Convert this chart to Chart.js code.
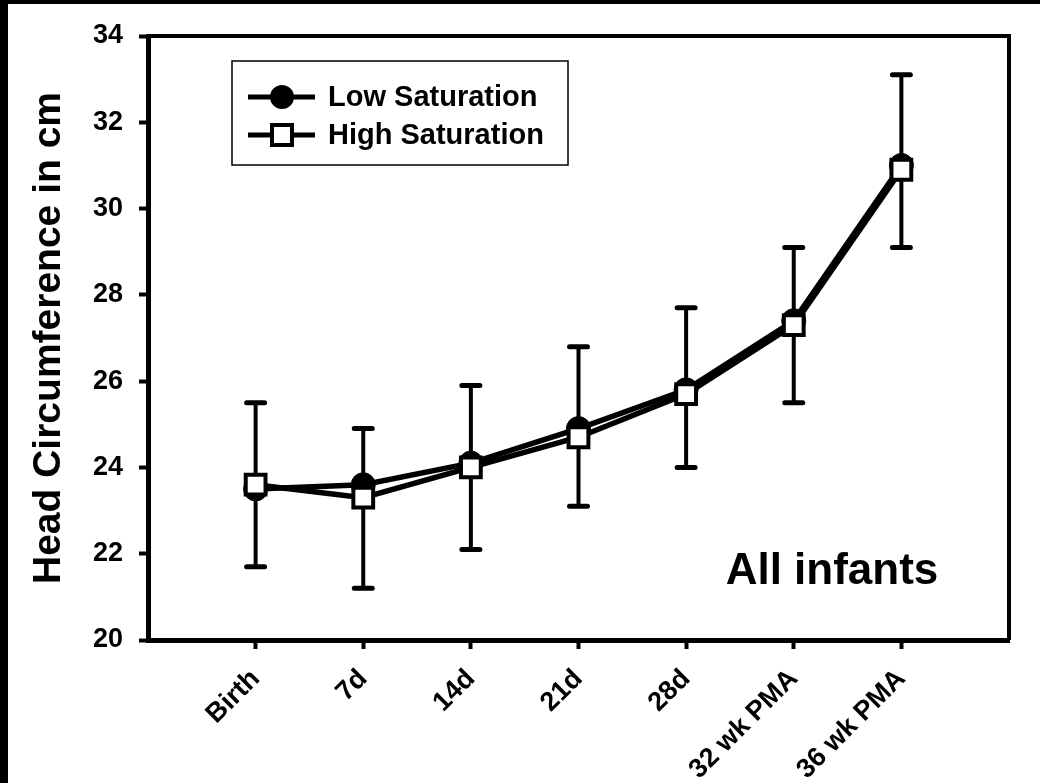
<html>

<head>
    <script type="text/javascript" src="https://cdn.jsdelivr.net/npm/chart.js@4.4.0/dist/chart.umd.min.js"></script>
    <style>
        html, body { margin: 0; padding: 0; background: #fff; overflow: hidden; }
        #wrap { position: relative; width: 1040px; height: 783px; overflow: hidden; }
        #hcGraph { display: block; }
        #barTop { position: absolute; left: 0; top: 0; width: 1040px; height: 4px; background: #000; }
        #barLeft { position: absolute; left: 0; top: 0; width: 8px; height: 783px; background: #000; }
    </style>
</head>

<body>
    <div id="wrap">
        <canvas id="hcGraph" width="1040" height="783"></canvas>
        <div id="barTop"></div>
        <div id="barLeft"></div>
    </div>
</body>

</html>

<script type="text/javascript">
    // dados
    const categories = ['Birth', '7d', '14d', '21d', '28d', '32 wk PMA', '36 wk PMA'];
    const lowSat = [23.5, 23.6, 24.1, 24.9, 25.8, 27.4, 31.0];
    const highSat = [23.6, 23.3, 24.0, 24.7, 25.7, 27.3, 30.9];
    const errUpper = [25.5, 24.9, 25.9, 26.8, 27.7, 29.1, 33.1];
    const errLower = [21.7, 21.2, 22.1, 23.1, 24.0, 25.5, 29.1];
    const yMin = 20, yMax = 34, yStep = 2;

    const FONT = '"Liberation Sans", Arial, sans-serif';

    const errorBars = {
        id: 'errorBars',
        beforeDatasetsDraw(chart) {
            const ctx = chart.ctx, x = chart.scales.x, y = chart.scales.y;
            ctx.save();
            ctx.strokeStyle = '#000';
            for (let i = 0; i < categories.length; i++) {
                const px = x.getPixelForValue(i + 1);
                const top = y.getPixelForValue(errUpper[i]);
                const bot = y.getPixelForValue(errLower[i]);
                ctx.lineWidth = 4;
                ctx.lineCap = 'butt';
                ctx.beginPath();
                ctx.moveTo(px, top);
                ctx.lineTo(px, bot);
                ctx.stroke();
                ctx.lineWidth = 5;
                ctx.lineCap = 'round';
                ctx.beginPath();
                ctx.moveTo(px - 9, top); ctx.lineTo(px + 9, top);
                ctx.moveTo(px - 9, bot); ctx.lineTo(px + 9, bot);
                ctx.stroke();
            }
            ctx.restore();
        }
    };

    const extras = {
        id: 'extras',
        afterDraw(chart) {
            const ctx = chart.ctx, a = chart.chartArea;
            ctx.save();
            // moldura de cima e da direita
            ctx.strokeStyle = '#000';
            ctx.lineWidth = 4;
            ctx.beginPath();
            ctx.moveTo(a.left, a.top);
            ctx.lineTo(a.right, a.top);
            ctx.lineTo(a.right, a.bottom);
            ctx.stroke();

            // legenda
            ctx.lineWidth = 1.5;
            ctx.strokeRect(232, 61, 336, 104);
            const rows = [
                { label: 'Low Saturation', y: 97, filled: true },
                { label: 'High Saturation', y: 135, filled: false }
            ];
            rows.forEach(r => {
                ctx.lineWidth = 5;
                ctx.beginPath();
                ctx.moveTo(248, r.y);
                ctx.lineTo(315, r.y);
                ctx.stroke();
                if (r.filled) {
                    ctx.fillStyle = '#000';
                    ctx.beginPath();
                    ctx.arc(282, r.y, 12, 0, Math.PI * 2);
                    ctx.fill();
                } else {
                    ctx.fillStyle = '#fff';
                    ctx.lineWidth = 4;
                    ctx.fillRect(272, r.y - 10, 20, 20);
                    ctx.strokeRect(272, r.y - 10, 20, 20);
                }
                ctx.fillStyle = '#000';
                ctx.font = 'bold 29px ' + FONT;
                ctx.textBaseline = 'middle';
                ctx.textAlign = 'left';
                ctx.fillText(r.label, 328, r.y + 1);
            });

            ctx.font = 'bold 44px ' + FONT;
            ctx.textAlign = 'center';
            ctx.textBaseline = 'alphabetic';
            ctx.fillText('All infants', 832, 584);
            ctx.restore();
        }
    };

    const ctx = document.getElementById('hcGraph').getContext('2d');
    const hcGraph = new Chart(ctx, {
        type: 'line',
        data: {
            datasets: [{
                label: 'Low Saturation',
                data: lowSat.map((v, i) => ({ x: i + 1, y: v })),
                borderColor: '#000',
                borderWidth: 5.5,
                pointStyle: 'circle',
                pointRadius: 12,
                pointBackgroundColor: '#000',
                pointBorderColor: '#000',
                pointBorderWidth: 1,
                tension: 0,
                order: 2
            }, {
                label: 'High Saturation',
                data: highSat.map((v, i) => ({ x: i + 1, y: v })),
                borderColor: '#000',
                borderWidth: 5.5,
                pointStyle: 'rect',
                pointRadius: 14,
                pointBackgroundColor: '#fff',
                pointBorderColor: '#000',
                pointBorderWidth: 4,
                tension: 0,
                order: 1
            }]
        },
        options: {
            responsive: false,
            animation: false,
            devicePixelRatio: 1,
            layout: { padding: { top: 36, right: 31, left: 0, bottom: 0 } },
            plugins: {
                legend: { display: false },
                tooltip: { enabled: false }
            },
            scales: {
                x: {
                    type: 'linear',
                    min: 0,
                    max: categories.length + 1,
                    afterBuildTicks: s => {
                        s.ticks = categories.map((c, i) => ({ value: i + 1 }));
                    },
                    afterFit: s => { s.height = 143; },
                    ticks: {
                        callback: v => categories[v - 1] || '',
                        minRotation: 45,
                        maxRotation: 45,
                        autoSkip: false,
                        padding: 14,
                        color: '#000',
                        font: { family: FONT, size: 27, weight: 'bold' }
                    },
                    grid: {
                        drawOnChartArea: false,
                        tickLength: 9,
                        tickWidth: 4,
                        tickColor: '#000'
                    },
                    border: { display: true, color: '#000', width: 5 }
                },
                y: {
                    min: yMin,
                    max: yMax,
                    afterFit: s => { s.width = 148; },
                    ticks: {
                        stepSize: yStep,
                        padding: 16,
                        color: '#000',
                        font: { family: FONT, size: 27, weight: 'bold' }
                    },
                    grid: {
                        drawOnChartArea: false,
                        tickLength: 9,
                        tickWidth: 4,
                        tickColor: '#000'
                    },
                    border: { display: true, color: '#000', width: 5 },
                    title: {
                        display: true,
                        text: 'Head Circumference in cm',
                        color: '#000',
                        padding: { top: 26, bottom: 0 },
                        font: { family: FONT, size: 39, weight: 'bold' }
                    }
                }
            }
        },
        plugins: [errorBars, extras]
    });
</script>
